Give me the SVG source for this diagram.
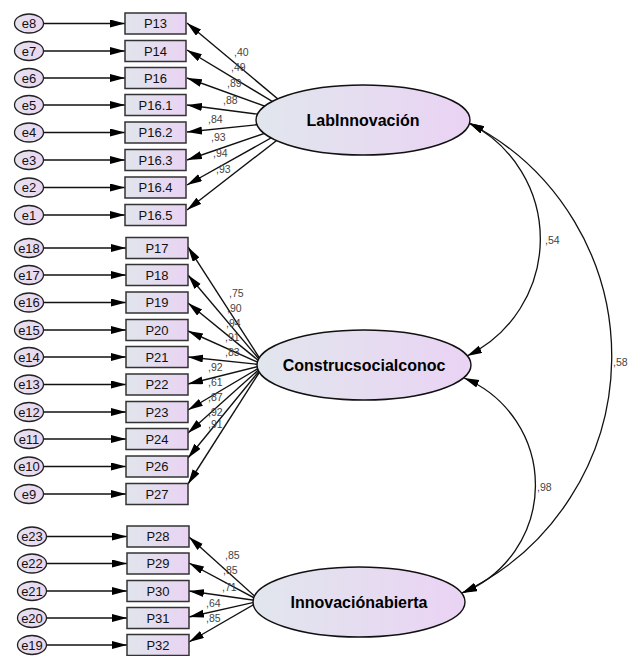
<svg xmlns="http://www.w3.org/2000/svg" width="637" height="656" viewBox="0 0 637 656">
<defs>
<linearGradient id="gBox" x1="0" y1="0" x2="1" y2="0">
<stop offset="0" stop-color="#e1e5ec"/>
<stop offset="1" stop-color="#e9d3f3"/>
</linearGradient>
<linearGradient id="gLat" x1="0" y1="0" x2="1" y2="0">
<stop offset="0" stop-color="#e1e6ed"/>
<stop offset="1" stop-color="#ead3f4"/>
</linearGradient>
<linearGradient id="gErr" x1="0" y1="0" x2="1" y2="0">
<stop offset="0" stop-color="#e6e2ee"/>
<stop offset="1" stop-color="#e9d6f2"/>
</linearGradient>
<marker id="arr" markerUnits="userSpaceOnUse" markerWidth="16" markerHeight="9" refX="15" refY="4" orient="auto-start-reverse" viewBox="0 0 16 9">
<path d="M0,0 L15,4 L0,8 z" fill="#000"/>
</marker>
<style>
.ln{stroke:#111;stroke-width:1.4;fill:none;marker-end:url(#arr)}
.cv{stroke:#111;stroke-width:1.3;fill:none;marker-start:url(#arr);marker-end:url(#arr)}
.box{fill:url(#gBox);stroke:#333;stroke-width:1.5}
.err{fill:url(#gErr);stroke:#222;stroke-width:1.3}
.lat{fill:url(#gLat);stroke:#111;stroke-width:1.4}
.bt{font-family:"Liberation Sans",Arial,sans-serif;font-size:13px;fill:#111;text-anchor:middle}
.lt{font-family:"Liberation Sans",Arial,sans-serif;font-size:16px;font-weight:bold;fill:#000;text-anchor:middle}
.cf{font-family:"Liberation Sans",Arial,sans-serif;font-size:10.5px;fill:#444}
</style>
</defs>

<g id="connectors">
<!-- error to indicator -->
<line class="ln" x1="43.5" y1="23.5" x2="125" y2="23.5"/>
<line class="ln" x1="43.5" y1="51" x2="125" y2="51"/>
<line class="ln" x1="43.5" y1="78" x2="125" y2="78"/>
<line class="ln" x1="43.5" y1="105" x2="125" y2="105"/>
<line class="ln" x1="43.5" y1="132.5" x2="125" y2="132.5"/>
<line class="ln" x1="43.5" y1="160" x2="125" y2="160"/>
<line class="ln" x1="43.5" y1="187.5" x2="125" y2="187.5"/>
<line class="ln" x1="43.5" y1="215" x2="125" y2="215"/>

<line class="ln" x1="43.5" y1="248" x2="126" y2="248"/>
<line class="ln" x1="43.5" y1="275" x2="126" y2="275"/>
<line class="ln" x1="43.5" y1="302.5" x2="126" y2="302.5"/>
<line class="ln" x1="43.5" y1="330" x2="126" y2="330"/>
<line class="ln" x1="43.5" y1="357" x2="126" y2="357"/>
<line class="ln" x1="43.5" y1="384.5" x2="126" y2="384.5"/>
<line class="ln" x1="43.5" y1="412" x2="126" y2="412"/>
<line class="ln" x1="43.5" y1="439" x2="126" y2="439"/>
<line class="ln" x1="43.5" y1="466.5" x2="126" y2="466.5"/>
<line class="ln" x1="43.5" y1="494" x2="126" y2="494"/>

<line class="ln" x1="46.5" y1="536.5" x2="127" y2="536.5"/>
<line class="ln" x1="46.5" y1="563.5" x2="127" y2="563.5"/>
<line class="ln" x1="46.5" y1="591" x2="127" y2="591"/>
<line class="ln" x1="46.5" y1="618" x2="127" y2="618"/>
<line class="ln" x1="46.5" y1="645" x2="127" y2="645"/>

<!-- LabInnovación loadings -->
<line class="ln" x1="303" y1="120" x2="187" y2="23"/>
<line class="ln" x1="303" y1="120" x2="187" y2="50"/>
<line class="ln" x1="303" y1="120" x2="187" y2="78"/>
<line class="ln" x1="303" y1="120" x2="187" y2="105"/>
<line class="ln" x1="303" y1="120" x2="187" y2="132"/>
<line class="ln" x1="303" y1="120" x2="187" y2="160"/>
<line class="ln" x1="303" y1="120" x2="187" y2="185"/>
<line class="ln" x1="303" y1="120" x2="187" y2="210"/>

<!-- Construcsocialconoc loadings -->
<line class="ln" x1="264" y1="365" x2="188" y2="247"/>
<line class="ln" x1="264" y1="365" x2="188" y2="275"/>
<line class="ln" x1="264" y1="365" x2="188" y2="303"/>
<line class="ln" x1="264" y1="365" x2="188" y2="331"/>
<line class="ln" x1="264" y1="365" x2="188" y2="357"/>
<line class="ln" x1="264" y1="365" x2="188" y2="384"/>
<line class="ln" x1="264" y1="365" x2="188" y2="410"/>
<line class="ln" x1="264" y1="365" x2="188" y2="433"/>
<line class="ln" x1="264" y1="365" x2="188" y2="458"/>
<line class="ln" x1="264" y1="365" x2="188" y2="484"/>

<!-- Innovaciónabierta loadings -->
<line class="ln" x1="260" y1="601" x2="189" y2="537"/>
<line class="ln" x1="260" y1="601" x2="189" y2="563"/>
<line class="ln" x1="260" y1="601" x2="189" y2="591"/>
<line class="ln" x1="260" y1="601" x2="189" y2="617"/>
<line class="ln" x1="260" y1="601" x2="189" y2="642"/>

<!-- covariances -->
<path class="cv" d="M469,123 A130,130 0 0 1 467,356"/>
<path class="cv" d="M464,378 A116,116 0 0 1 462,593"/>
<path class="cv" d="M469,123 A262,262 0 0 1 462,593"/>

<!-- coefficient labels -->
<text class="cf" x="234" y="56">,40</text>
<text class="cf" x="231" y="71">,49</text>
<text class="cf" x="227" y="87">,89</text>
<text class="cf" x="223" y="104">,88</text>
<text class="cf" x="208" y="123">,84</text>
<text class="cf" x="211" y="141">,93</text>
<text class="cf" x="213" y="157">,94</text>
<text class="cf" x="216" y="173">,93</text>

<text class="cf" x="229" y="297">,75</text>
<text class="cf" x="227" y="312">,90</text>
<text class="cf" x="226" y="327">,94</text>
<text class="cf" x="225" y="341">,91</text>
<text class="cf" x="225" y="356">,83</text>
<text class="cf" x="208" y="371">,92</text>
<text class="cf" x="208" y="386">,61</text>
<text class="cf" x="208" y="401">,87</text>
<text class="cf" x="208" y="416">,92</text>
<text class="cf" x="208" y="428">,91</text>

<text class="cf" x="225" y="559">,85</text>
<text class="cf" x="223" y="574">,85</text>
<text class="cf" x="222" y="591">,71</text>
<text class="cf" x="206" y="607">,64</text>
<text class="cf" x="206" y="622">,85</text>

<text class="cf" x="545" y="244">,54</text>
<text class="cf" x="537" y="491">,98</text>
<text class="cf" x="613" y="366">,58</text>
</g>

<!-- latent variables -->
<g id="LabInnovacion">
<ellipse class="lat" cx="363" cy="120" rx="107" ry="35"/>
<text class="lt" x="363" y="126">LabInnovación</text>
</g>
<g id="Construcsocialconoc">
<ellipse class="lat" cx="364" cy="365" rx="107" ry="35"/>
<text class="lt" x="364" y="371">Construcsocialconoc</text>
</g>
<g id="Innovacionabierta">
<ellipse class="lat" cx="359" cy="602" rx="106" ry="35"/>
<text class="lt" x="359" y="608">Innovaciónabierta</text>
</g>

<!-- indicators top -->
<g id="P13"><rect class="box" x="125" y="13" width="61" height="21"/><text class="bt" x="155.5" y="28">P13</text></g>
<g id="P14"><rect class="box" x="125" y="40.5" width="61" height="21"/><text class="bt" x="155.5" y="55.5">P14</text></g>
<g id="P16"><rect class="box" x="125" y="67.5" width="61" height="21"/><text class="bt" x="155.5" y="82.5">P16</text></g>
<g id="P16.1"><rect class="box" x="125" y="94.5" width="61" height="21"/><text class="bt" x="155.5" y="109.5">P16.1</text></g>
<g id="P16.2"><rect class="box" x="125" y="122" width="61" height="21"/><text class="bt" x="155.5" y="137">P16.2</text></g>
<g id="P16.3"><rect class="box" x="125" y="149.5" width="61" height="21"/><text class="bt" x="155.5" y="164.5">P16.3</text></g>
<g id="P16.4"><rect class="box" x="125" y="177" width="61" height="21"/><text class="bt" x="155.5" y="192">P16.4</text></g>
<g id="P16.5"><rect class="box" x="125" y="204.5" width="61" height="21"/><text class="bt" x="155.5" y="219.5">P16.5</text></g>

<!-- indicators middle -->
<g id="P17"><rect class="box" x="126" y="237.5" width="62" height="21"/><text class="bt" x="157" y="252.5">P17</text></g>
<g id="P18"><rect class="box" x="126" y="264.5" width="62" height="21"/><text class="bt" x="157" y="279.5">P18</text></g>
<g id="P19"><rect class="box" x="126" y="292" width="62" height="21"/><text class="bt" x="157" y="307">P19</text></g>
<g id="P20"><rect class="box" x="126" y="319.5" width="62" height="21"/><text class="bt" x="157" y="334.5">P20</text></g>
<g id="P21"><rect class="box" x="126" y="346.5" width="62" height="21"/><text class="bt" x="157" y="361.5">P21</text></g>
<g id="P22"><rect class="box" x="126" y="374" width="62" height="21"/><text class="bt" x="157" y="389">P22</text></g>
<g id="P23"><rect class="box" x="126" y="401.5" width="62" height="21"/><text class="bt" x="157" y="416.5">P23</text></g>
<g id="P24"><rect class="box" x="126" y="428.5" width="62" height="21"/><text class="bt" x="157" y="443.5">P24</text></g>
<g id="P26"><rect class="box" x="126" y="456" width="62" height="21"/><text class="bt" x="157" y="471">P26</text></g>
<g id="P27"><rect class="box" x="126" y="483.5" width="62" height="21"/><text class="bt" x="157" y="498.5">P27</text></g>

<!-- indicators bottom -->
<g id="P28"><rect class="box" x="127" y="526" width="62" height="21"/><text class="bt" x="158" y="541">P28</text></g>
<g id="P29"><rect class="box" x="127" y="553" width="62" height="21"/><text class="bt" x="158" y="568">P29</text></g>
<g id="P30"><rect class="box" x="127" y="580.5" width="62" height="21"/><text class="bt" x="158" y="595.5">P30</text></g>
<g id="P31"><rect class="box" x="127" y="607.5" width="62" height="21"/><text class="bt" x="158" y="622.5">P31</text></g>
<g id="P32"><rect class="box" x="127" y="634.5" width="62" height="21"/><text class="bt" x="158" y="649.5">P32</text></g>

<!-- error terms -->
<g id="e8"><ellipse class="err" cx="29" cy="23.5" rx="14.5" ry="9.5"/><text class="bt" x="29" y="28">e8</text></g>
<g id="e7"><ellipse class="err" cx="29" cy="51" rx="14.5" ry="9.5"/><text class="bt" x="29" y="55.5">e7</text></g>
<g id="e6"><ellipse class="err" cx="29" cy="78" rx="14.5" ry="9.5"/><text class="bt" x="29" y="82.5">e6</text></g>
<g id="e5"><ellipse class="err" cx="29" cy="105" rx="14.5" ry="9.5"/><text class="bt" x="29" y="109.5">e5</text></g>
<g id="e4"><ellipse class="err" cx="29" cy="132.5" rx="14.5" ry="9.5"/><text class="bt" x="29" y="137">e4</text></g>
<g id="e3"><ellipse class="err" cx="29" cy="160" rx="14.5" ry="9.5"/><text class="bt" x="29" y="164.5">e3</text></g>
<g id="e2"><ellipse class="err" cx="29" cy="187.5" rx="14.5" ry="9.5"/><text class="bt" x="29" y="192">e2</text></g>
<g id="e1"><ellipse class="err" cx="29" cy="215" rx="14.5" ry="9.5"/><text class="bt" x="29" y="219.5">e1</text></g>

<g id="e18"><ellipse class="err" cx="29" cy="248" rx="14.5" ry="9.5"/><text class="bt" x="29" y="252.5">e18</text></g>
<g id="e17"><ellipse class="err" cx="29" cy="275" rx="14.5" ry="9.5"/><text class="bt" x="29" y="279.5">e17</text></g>
<g id="e16"><ellipse class="err" cx="29" cy="302.5" rx="14.5" ry="9.5"/><text class="bt" x="29" y="307">e16</text></g>
<g id="e15"><ellipse class="err" cx="29" cy="330" rx="14.5" ry="9.5"/><text class="bt" x="29" y="334.5">e15</text></g>
<g id="e14"><ellipse class="err" cx="29" cy="357" rx="14.5" ry="9.5"/><text class="bt" x="29" y="361.5">e14</text></g>
<g id="e13"><ellipse class="err" cx="29" cy="384.5" rx="14.5" ry="9.5"/><text class="bt" x="29" y="389">e13</text></g>
<g id="e12"><ellipse class="err" cx="29" cy="412" rx="14.5" ry="9.5"/><text class="bt" x="29" y="416.5">e12</text></g>
<g id="e11"><ellipse class="err" cx="29" cy="439" rx="14.5" ry="9.5"/><text class="bt" x="29" y="443.5">e11</text></g>
<g id="e10"><ellipse class="err" cx="29" cy="466.5" rx="14.5" ry="9.5"/><text class="bt" x="29" y="471">e10</text></g>
<g id="e9"><ellipse class="err" cx="29" cy="494" rx="14.5" ry="9.5"/><text class="bt" x="29" y="498.5">e9</text></g>

<g id="e23"><ellipse class="err" cx="32" cy="536.5" rx="14.5" ry="9.5"/><text class="bt" x="32" y="541">e23</text></g>
<g id="e22"><ellipse class="err" cx="32" cy="563.5" rx="14.5" ry="9.5"/><text class="bt" x="32" y="568">e22</text></g>
<g id="e21"><ellipse class="err" cx="32" cy="591" rx="14.5" ry="9.5"/><text class="bt" x="32" y="595.5">e21</text></g>
<g id="e20"><ellipse class="err" cx="32" cy="618" rx="14.5" ry="9.5"/><text class="bt" x="32" y="622.5">e20</text></g>
<g id="e19"><ellipse class="err" cx="32" cy="645" rx="14.5" ry="9.5"/><text class="bt" x="32" y="649.5">e19</text></g>
</svg>
